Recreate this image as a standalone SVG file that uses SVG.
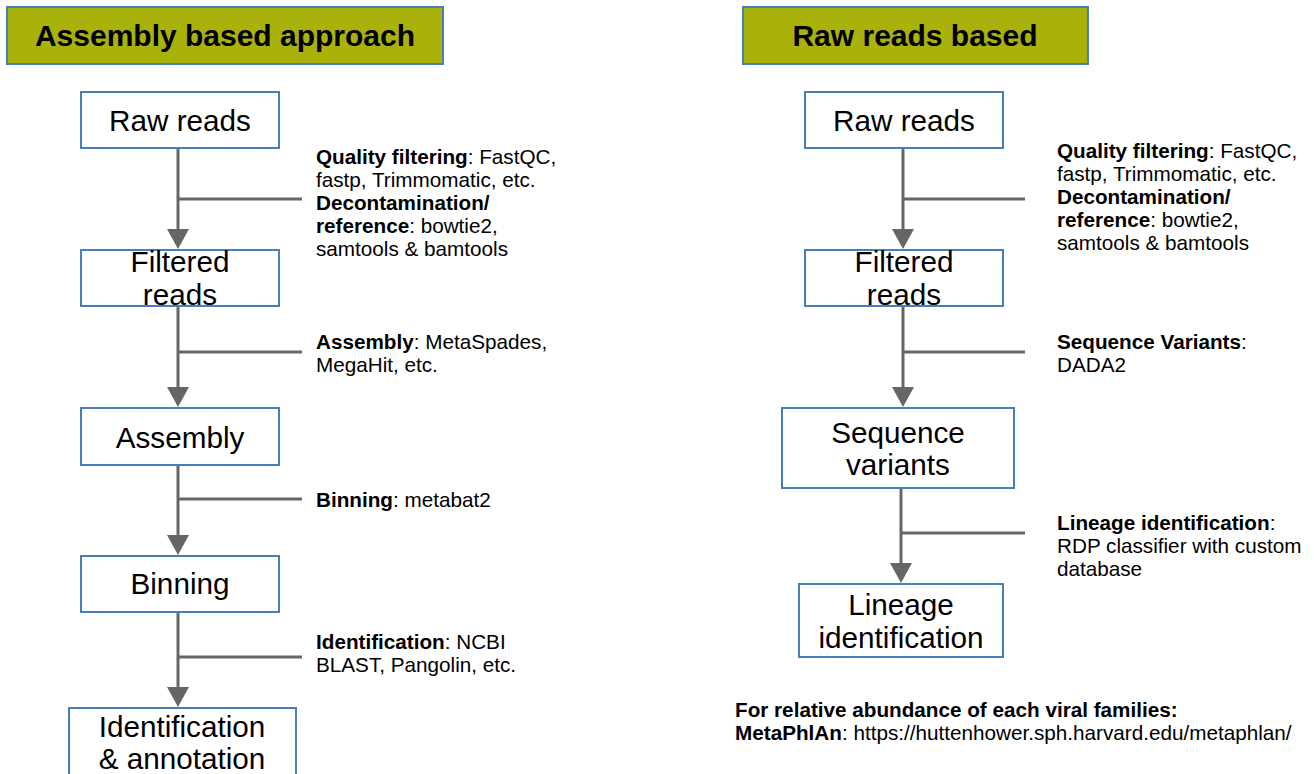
<svg xmlns="http://www.w3.org/2000/svg" width="1314" height="774" viewBox="0 0 1314 774">
<style>
.hdr{fill:#a9b10b;stroke:#4a7ebb;stroke-width:2}
.hdrt{font-family:"Liberation Sans",Arial,sans-serif;font-weight:bold;font-size:30px;fill:#000;text-anchor:middle}
.box{fill:#fff;stroke:#4a7ebb;stroke-width:2}
.bt{font-family:"Liberation Sans",Arial,sans-serif;font-size:29.7px;fill:#000;text-anchor:middle}
.ann{font-family:"Liberation Sans",Arial,sans-serif;font-size:20.7px;fill:#000}
.b{font-weight:bold}
.ln{stroke:#666;stroke-width:3;fill:none}
.ah{fill:#666}
</style>
<rect width="1314" height="774" fill="#fff"/>
<g id="hdr-left"><rect class="hdr" x="7" y="7" width="436" height="57"/><text class="hdrt" x="225" y="46">Assembly based approach</text></g>
<g id="hdr-right"><rect class="hdr" x="743" y="7" width="345" height="57"/><text class="hdrt" x="915" y="46">Raw reads based</text></g>

<g id="connectors">
<line class="ln" x1="178" y1="148" x2="178" y2="232"/><line class="ln" x1="178" y1="199" x2="302" y2="199"/><polygon class="ah" points="167,229 189,229 178,249"/>
<line class="ln" x1="178" y1="306" x2="178" y2="390"/><line class="ln" x1="178" y1="352" x2="302" y2="352"/><polygon class="ah" points="167,387 189,387 178,407"/>
<line class="ln" x1="178" y1="465" x2="178" y2="538"/><line class="ln" x1="178" y1="499" x2="302" y2="499"/><polygon class="ah" points="167,535 189,535 178,555"/>
<line class="ln" x1="178" y1="612" x2="178" y2="690"/><line class="ln" x1="178" y1="657" x2="302" y2="657"/><polygon class="ah" points="167,687 189,687 178,707"/>
<line class="ln" x1="903" y1="148" x2="903" y2="232"/><line class="ln" x1="903" y1="199" x2="1025" y2="199"/><polygon class="ah" points="892,229 914,229 903,249"/>
<line class="ln" x1="903" y1="306" x2="903" y2="390"/><line class="ln" x1="903" y1="352" x2="1025" y2="352"/><polygon class="ah" points="892,387 914,387 903,407"/>
<line class="ln" x1="901" y1="488" x2="901" y2="566"/><line class="ln" x1="901" y1="533" x2="1025" y2="533"/><polygon class="ah" points="890,563 912,563 901,583"/>
</g>

<g id="n-raw-left"><rect class="box" x="81" y="92" width="198" height="56"/><text class="bt" x="180" y="131">Raw reads</text></g>
<g id="n-filt-left"><rect class="box" x="81" y="250" width="198" height="56"/><text class="bt" x="180" y="272">Filtered</text><text class="bt" x="180" y="305">reads</text></g>
<g id="n-assembly"><rect class="box" x="81" y="408" width="198" height="57"/><text class="bt" x="180" y="448">Assembly</text></g>
<g id="n-binning"><rect class="box" x="81" y="556" width="198" height="56"/><text class="bt" x="180" y="594">Binning</text></g>
<g id="n-ident"><rect class="box" x="69" y="708" width="227" height="80"/><text class="bt" x="182" y="737">Identification</text><text class="bt" x="182" y="769">&amp; annotation</text></g>

<g id="n-raw-right"><rect class="box" x="805" y="92" width="198" height="56"/><text class="bt" x="904" y="131">Raw reads</text></g>
<g id="n-filt-right"><rect class="box" x="805" y="250" width="198" height="56"/><text class="bt" x="904" y="272">Filtered</text><text class="bt" x="904" y="305">reads</text></g>
<g id="n-seqvar"><rect class="box" x="782" y="408" width="232" height="80"/><text class="bt" x="898" y="443">Sequence</text><text class="bt" x="898" y="475">variants</text></g>
<g id="n-lineage"><rect class="box" x="799" y="584" width="204" height="73"/><text class="bt" x="901" y="615">Lineage</text><text class="bt" x="901" y="648">identification</text></g>

<g id="annotations">
<text class="ann" x="316" y="164"><tspan class="b">Quality filtering</tspan>: FastQC,</text>
<text class="ann" x="316" y="187">fastp, Trimmomatic, etc.</text>
<text class="ann b" x="316" y="210">Decontamination/</text>
<text class="ann" x="316" y="233"><tspan class="b">reference</tspan>: bowtie2,</text>
<text class="ann" x="316" y="256">samtools &amp; bamtools</text>
<text class="ann" x="316" y="349"><tspan class="b">Assembly</tspan>: MetaSpades,</text>
<text class="ann" x="316" y="372">MegaHit, etc.</text>
<text class="ann" x="316" y="507"><tspan class="b">Binning</tspan>: metabat2</text>
<text class="ann" x="316" y="649"><tspan class="b">Identification</tspan>: NCBI</text>
<text class="ann" x="316" y="672">BLAST, Pangolin, etc.</text>

<text class="ann" x="1057" y="158"><tspan class="b">Quality filtering</tspan>: FastQC,</text>
<text class="ann" x="1057" y="181">fastp, Trimmomatic, etc.</text>
<text class="ann b" x="1057" y="204">Decontamination/</text>
<text class="ann" x="1057" y="227"><tspan class="b">reference</tspan>: bowtie2,</text>
<text class="ann" x="1057" y="250">samtools &amp; bamtools</text>
<text class="ann" x="1057" y="349"><tspan class="b">Sequence Variants</tspan>:</text>
<text class="ann" x="1057" y="372">DADA2</text>
<text class="ann" x="1057" y="530"><tspan class="b">Lineage identification</tspan>:</text>
<text class="ann" x="1057" y="553">RDP classifier with custom</text>
<text class="ann" x="1057" y="576">database</text>

<text class="ann b" x="735" y="717">For relative abundance of each viral families:</text>
<text class="ann" x="735" y="740"><tspan class="b">MetaPhlAn</tspan>: https://huttenhower.sph.harvard.edu/metaphlan/</text>
</g>
</svg>
